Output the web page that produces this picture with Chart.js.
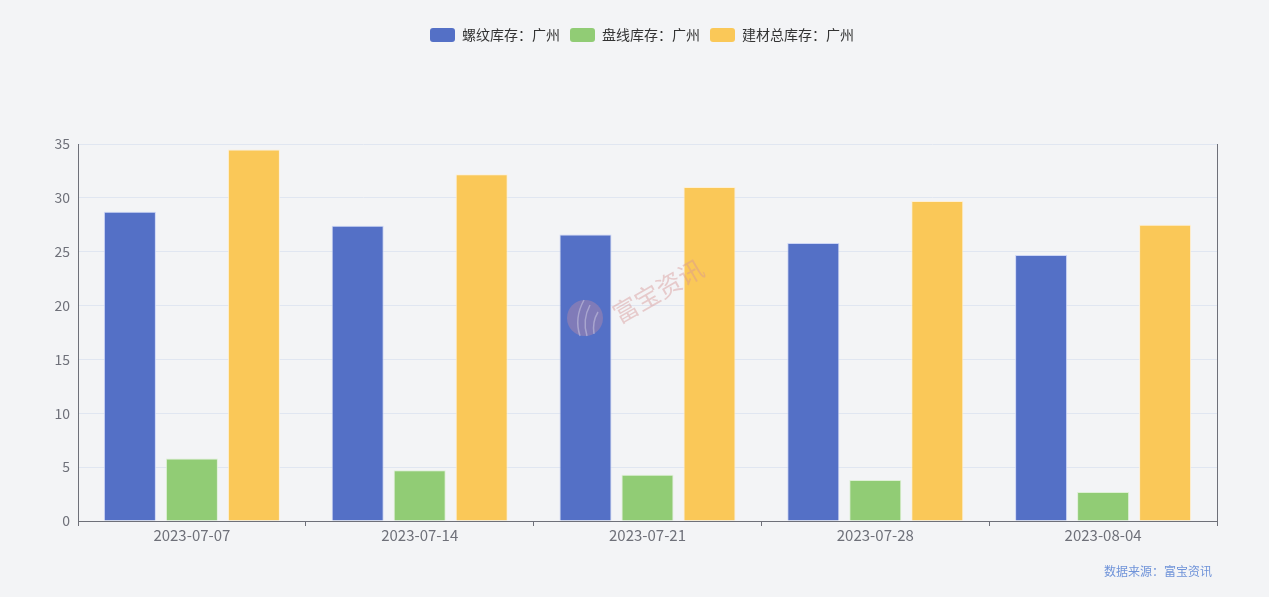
<!DOCTYPE html>
<html><head><meta charset="utf-8">
<script src="https://cdn.jsdelivr.net/npm/chart.js@4"></script>
<style>html,body{margin:0;padding:0;background:#f3f4f6}#wrap{width:1269px;height:597px;position:relative}</style>
</head><body><div id="wrap"><canvas id="c"></canvas></div>
<script>
const categories = ['2023-07-07','2023-07-14','2023-07-21','2023-07-28','2023-08-04'];
const seriesNames = ['螺纹库存：广州','盘线库存：广州','建材总库存：广州'];
const rebar = [28.7, 27.4, 26.6, 25.8, 24.7];
const wire = [5.8, 4.7, 4.3, 3.8, 2.7];
const total = [34.5, 32.2, 31.0, 29.7, 27.5];
const yMin = 0, yMax = 35, yStep = 5;
const sourceText = '数据来源：富宝资讯';
const watermarkText = '富宝资讯';

const FONT = '"Noto Sans CJK SC","Noto Sans",sans-serif';
const axisColor = '#6e7079';

const legendHeightPlugin = {
  id: 'legendHeight',
  beforeInit(chart) {
    const fit = chart.legend.fit;
    chart.legend.fit = function () { fit.call(this); this.height = 126; };
  },
  afterLayout(chart) {
    chart.legend.left = 67;
    chart.legend.right = 1217;
  }
};

const decorPlugin = {
  id: 'decor',
  afterDatasetsDraw(chart) {
    const ctx = chart.ctx;
    ctx.save();
    ctx.globalAlpha = 0.45;
    ctx.fillStyle = '#b58aa6';
    ctx.beginPath(); ctx.arc(585, 318, 18, 0, Math.PI * 2); ctx.fill();
    ctx.strokeStyle = 'rgba(255,255,255,0.7)';
    ctx.lineWidth = 1.5;
    ctx.beginPath(); ctx.moveTo(580, 336); ctx.quadraticCurveTo(574, 318, 584, 300); ctx.stroke();
    ctx.beginPath(); ctx.moveTo(587, 336); ctx.quadraticCurveTo(582, 320, 590, 305); ctx.stroke();
    ctx.beginPath(); ctx.moveTo(594, 334); ctx.quadraticCurveTo(592, 322, 598, 312); ctx.stroke();
    ctx.globalAlpha = 1;
    ctx.translate(658, 291);
    ctx.rotate(-30 * Math.PI / 180);
    ctx.fillStyle = 'rgba(214,150,150,0.45)';
    ctx.font = '25px ' + FONT;
    ctx.textAlign = 'center';
    ctx.textBaseline = 'middle';
    ctx.fillText(watermarkText, 0, 0);
    ctx.restore();
  },
  afterDraw(chart) {
    const ctx = chart.ctx;
    ctx.save();
    ctx.fillStyle = '#6f93d9';
    ctx.font = '12px ' + FONT;
    ctx.textAlign = 'right';
    ctx.textBaseline = 'middle';
    ctx.fillText(sourceText, 1212, 571);
    ctx.restore();
  }
};

const mk = (label, data, bg, border) => ({
  label, data, backgroundColor: bg, borderColor: border, borderWidth: 1,
  categoryPercentage: 0.8165, barPercentage: 0.839, yAxisID: 'y'
});

new Chart(document.getElementById('c'), {
  type: 'bar',
  data: {
    labels: categories,
    datasets: [
      mk(seriesNames[0], rebar, '#5470c6', 'rgba(200,210,245,0.9)'),
      mk(seriesNames[1], wire, '#91cc75', 'rgba(220,240,210,0.9)'),
      mk(seriesNames[2], total, '#fac858', 'rgba(255,240,210,0.9)')
    ]
  },
  options: {
    responsive: true,
    maintainAspectRatio: false,
    devicePixelRatio: 1,
    animation: false,
    layout: { padding: { top: 18, left: 0, right: 52, bottom: 0 } },
    plugins: {
      tooltip: { enabled: false },
      legend: {
        position: 'top',
        labels: {
          boxWidth: 25, boxHeight: 14, padding: 10, useBorderRadius: true, borderRadius: 3,
          color: '#333', font: { family: FONT, size: 14 },
          generateLabels(chart) {
            return Chart.defaults.plugins.legend.labels.generateLabels(chart).map(it => { it.lineWidth = 0; return it; });
          }
        }
      }
    },
    scales: {
      x: {
        afterFit(s) { s.height = 76; },
        grid: { display: true, drawOnChartArea: false, drawTicks: true, tickLength: 5, color: axisColor, offset: true },
        border: { display: true, color: axisColor, width: 1 },
        ticks: { color: '#6e7079', padding: 0, font: { family: FONT, size: 15 } }
      },
      y: {
        min: yMin, max: yMax,
        afterFit(s) { s.width = 78; },
        grid: { color: '#e0e6f1', drawTicks: false },
        border: { display: true, color: axisColor, width: 1 },
        ticks: { stepSize: yStep, padding: 8, color: '#6e7079', font: { family: FONT, size: 14 } }
      },
      y2: {
        position: 'right', min: yMin, max: yMax,
        afterFit(s) { s.width = 0; },
        grid: { display: false, drawTicks: false },
        border: { display: true, color: axisColor, width: 1 },
        ticks: { display: false }
      }
    }
  },
  plugins: [legendHeightPlugin, decorPlugin]
});
</script>
</body></html>
